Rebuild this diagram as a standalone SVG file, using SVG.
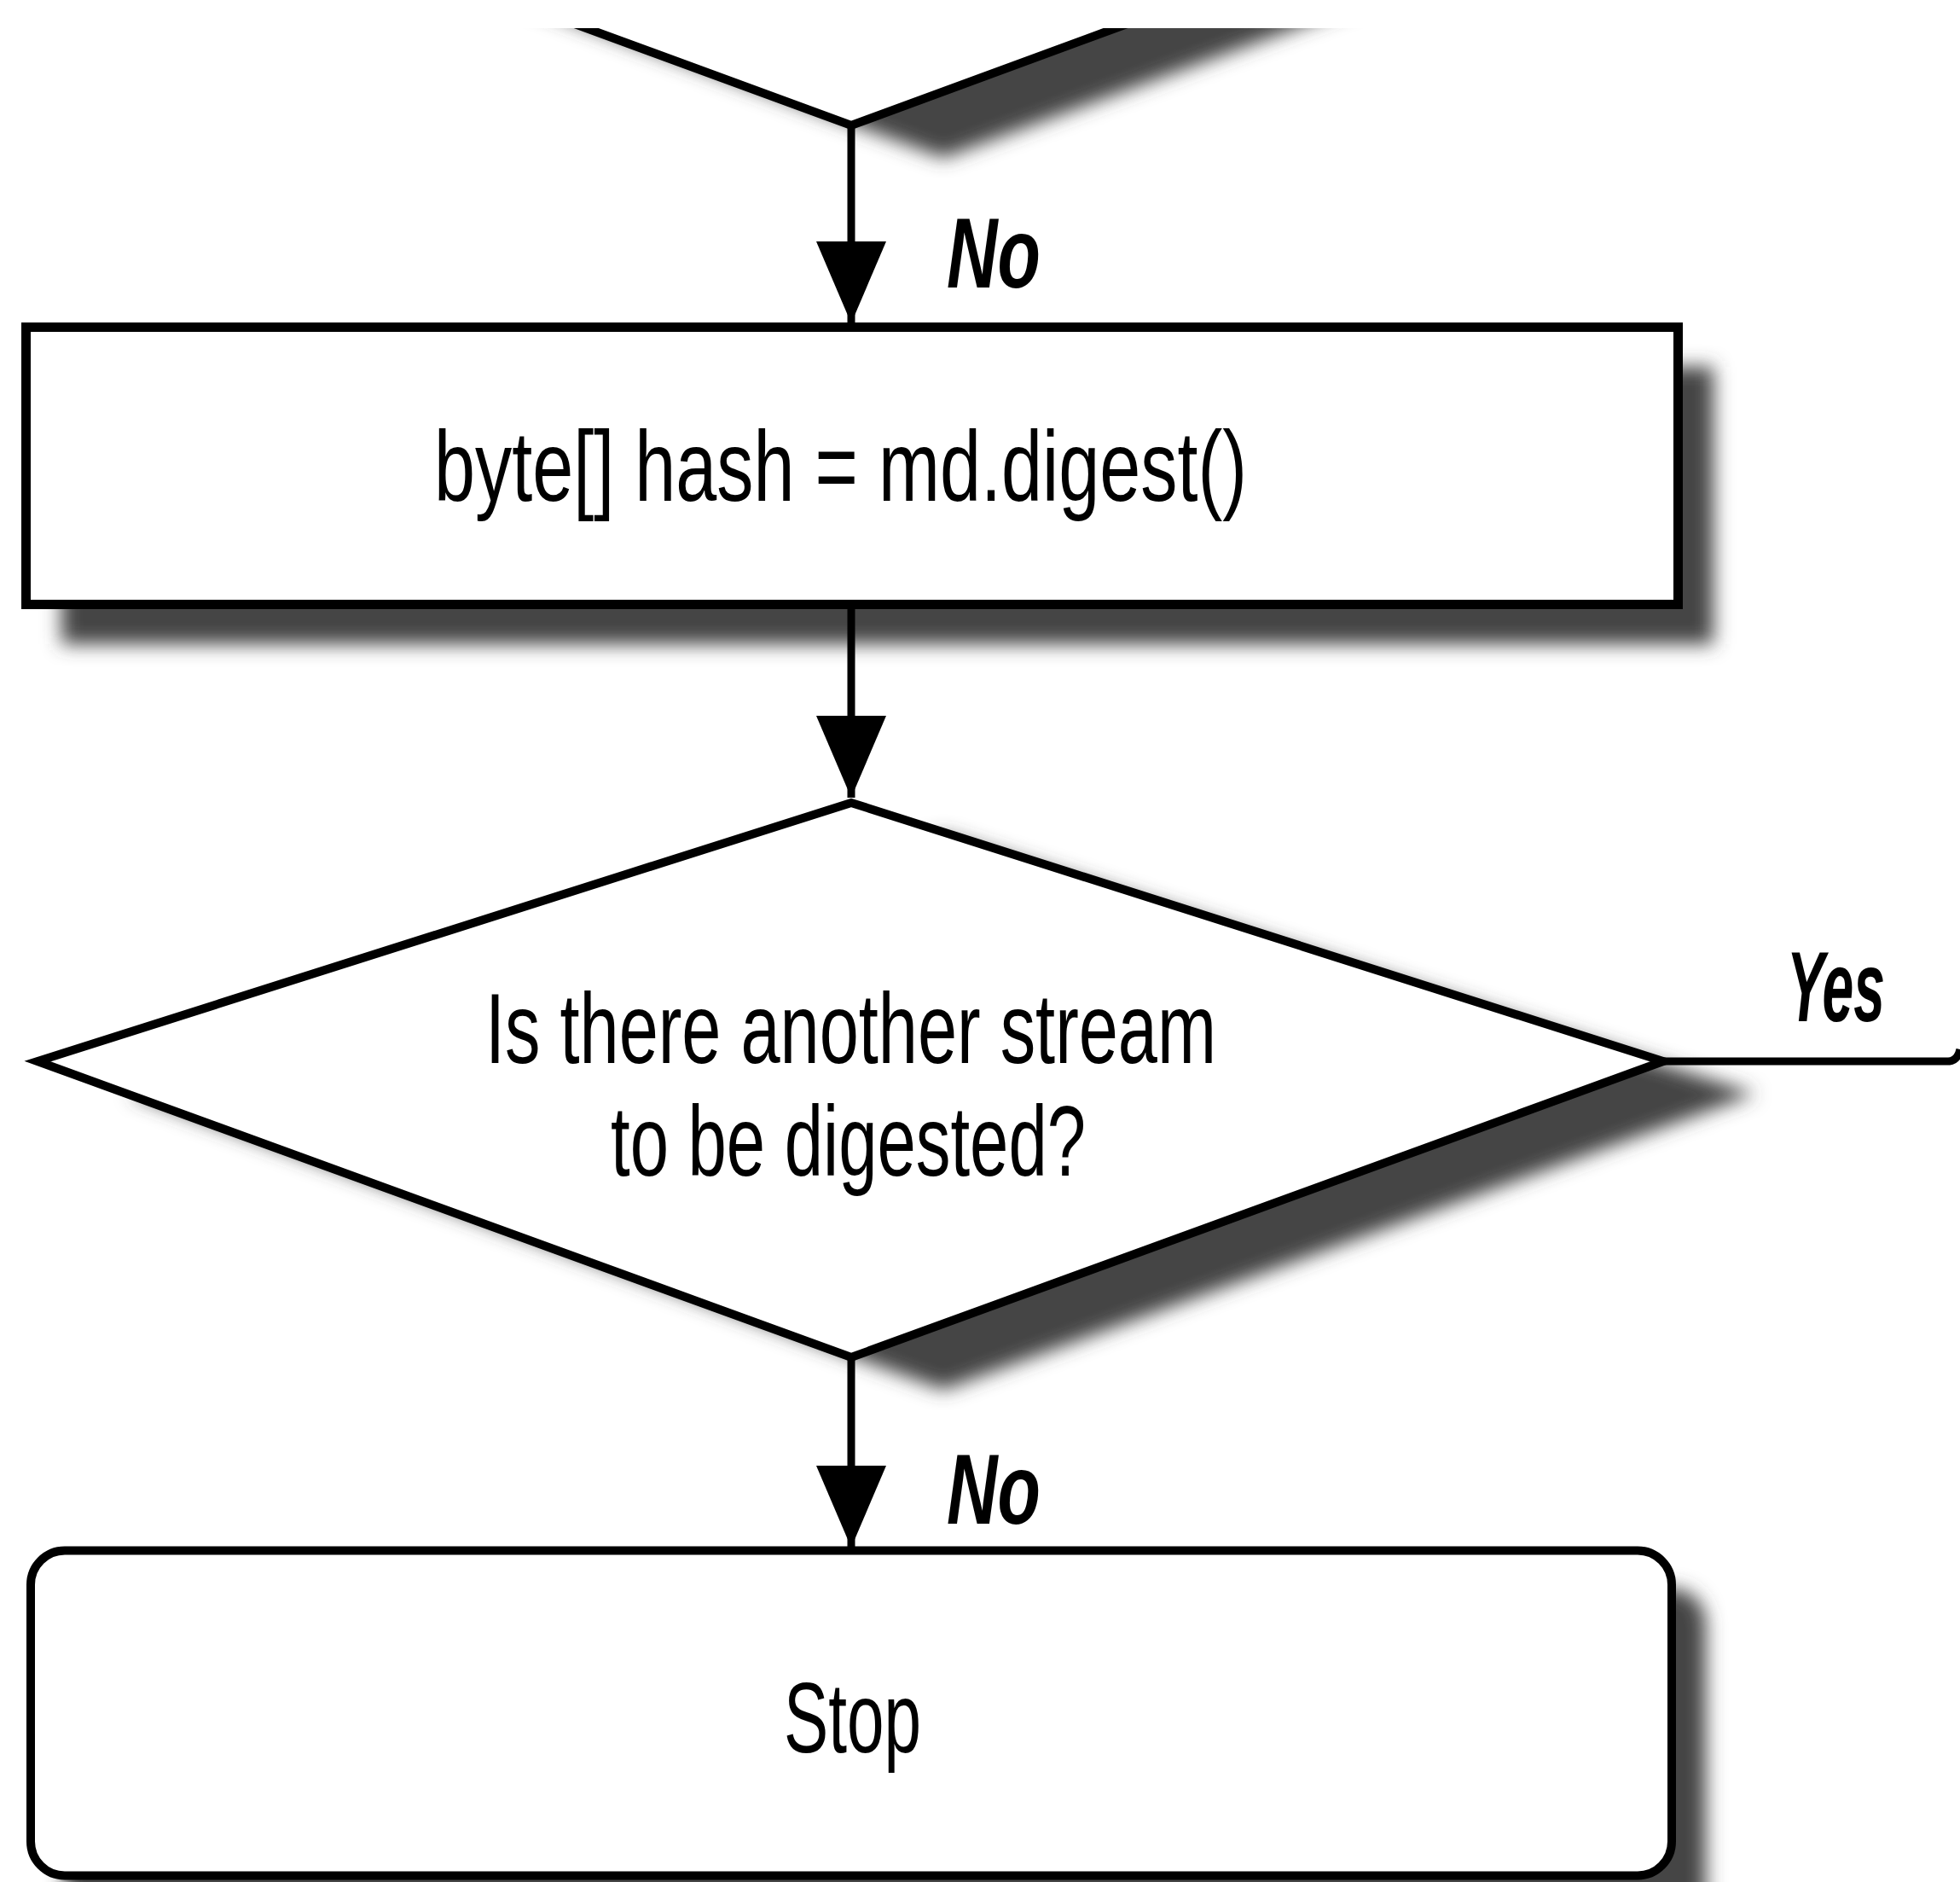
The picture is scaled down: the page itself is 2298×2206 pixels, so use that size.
<svg xmlns="http://www.w3.org/2000/svg" width="2298" height="2206" viewBox="0 0 2298 2206">
  <style>
    .body { font-family: "Liberation Sans Narrow", "Liberation Sans", Arial, sans-serif; font-size: 116px; fill: #000; }
    .lbl { font-family: "Liberation Sans Narrow", "Liberation Sans", Arial, sans-serif; font-size: 116px; font-weight: bold; font-style: italic; fill: #000; }
    .shape { fill: #fff; stroke: #000; stroke-linejoin: miter; }
    .shadow { fill: #444; filter: url(#blur); }
    .conn { fill: none; stroke: #000; stroke-width: 9; }
  </style>
  <defs>
    <filter id="blur" x="-10%" y="-10%" width="125%" height="135%">
      <feGaussianBlur stdDeviation="11"/>
    </filter>
    <clipPath id="topclip">
      <rect x="0" y="33" width="2298" height="400"/>
    </clipPath>
    <marker id="arrow" markerUnits="userSpaceOnUse" markerWidth="96" markerHeight="82" viewBox="0 -41 96 82" refX="96" refY="0" orient="auto">
      <path d="M0,-41 L96,0 L0,41 Z" fill="#000"/>
    </marker>
  </defs>
  <rect x="0" y="0" width="2298" height="2206" fill="#fff"/>

  <g id="node-prev-decision" clip-path="url(#topclip)">
    <polygon class="shadow" points="1106,-572 2058,-165 1106,185 152,-165"/>
    <polygon class="shape" stroke-width="10" points="998,-610 1950,-203 998,147 44,-203"/>
  </g>

  <g id="node-digest">
    <rect class="shadow" x="72" y="430" width="1937" height="325"/>
    <rect class="shape" stroke-width="11" x="30.5" y="383.5" width="1937" height="325"/>
    <text class="body" x="509" y="587" textLength="953" lengthAdjust="spacingAndGlyphs">byte[] hash = md.digest()</text>
  </g>

  <g id="node-decision">
    <polygon class="shadow" points="1106,979 2058,1282 1106,1629 152,1282"/>
    <polygon class="shape" stroke-width="10" points="998,941 1950,1244 998,1591 44,1244"/>
    <text class="body" x="569" y="1246" textLength="857" lengthAdjust="spacingAndGlyphs">Is there another stream</text>
    <text class="body" x="716" y="1378" textLength="557" lengthAdjust="spacingAndGlyphs">to be digested?</text>
  </g>

  <g id="node-stop">
    <rect class="shadow" x="76" y="1862" width="1924" height="400" rx="40" ry="40"/>
    <rect class="shape" stroke-width="10" x="36" y="1817.5" width="1924" height="381" rx="40" ry="40"/>
    <text class="body" x="919" y="2054" textLength="161" lengthAdjust="spacingAndGlyphs">Stop</text>
  </g>

  <g id="connectors">
    <path class="conn" d="M998,147 L998,379" marker-end="url(#arrow)"/>
    <path class="conn" d="M998,713 L998,935" marker-end="url(#arrow)"/>
    <path class="conn" d="M998,1591 L998,1814" marker-end="url(#arrow)"/>
    <path class="conn" stroke-width="15" d="M1948,1244 L2284,1244 Q2295,1244 2298,1230"/>
    <text class="lbl" x="1110" y="337" textLength="110" lengthAdjust="spacingAndGlyphs">No</text>
    <text class="lbl" x="1110" y="1786" textLength="110" lengthAdjust="spacingAndGlyphs">No</text>
    <text class="lbl" x="2095" y="1197" textLength="115" lengthAdjust="spacingAndGlyphs">Yes</text>
  </g>
</svg>
